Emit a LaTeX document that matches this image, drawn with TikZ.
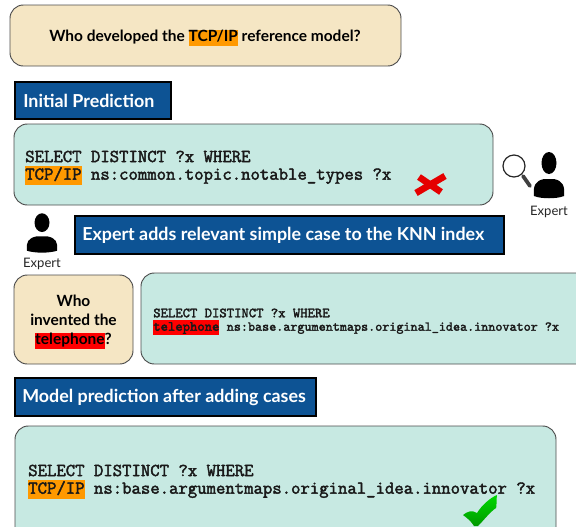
\documentclass[tikz,border=0pt]{standalone}
\usepackage{fontspec}
\setmainfont{Lato}
\newfontfamily\monof{Latin Modern Mono}[RawFeature={embolden=2.2}]
\definecolor{beige}{HTML}{F5E6C4}
\definecolor{teal}{HTML}{C7E9E2}
\definecolor{navy}{HTML}{0D5394}
\definecolor{hlo}{HTML}{FF9900}
\definecolor{hlr}{HTML}{FF0000}
\newcommand{\hlt}[2]{{\setlength{\fboxsep}{0pt}\colorbox{#1}{\rule[-0.28em]{0pt}{1.02em}#2}}}
\tikzset{
  x=0.75pt,y=-0.75pt,
  panel/.style={draw=black!70,line width=0.7pt,rounded corners=10pt},
  title/.style={draw=black,fill=navy,line width=1pt},
  titletext/.style={text=white,font=\bfseries\fontsize{13.4}{15}\selectfont,anchor=west,inner sep=0pt},
  code/.style={font=\monof\fontsize{13.67}{14}\selectfont,anchor=west,inner sep=0pt,text=black!90},
  codesmall/.style={font=\monof\fontsize{10.5}{11}\selectfont,anchor=west,inner sep=0pt,text=black!90},
  person/.style={fill=black,draw=none},
  small/.style={font=\fontsize{9.8}{11}\selectfont,inner sep=0pt,text=black!85},
  crossbar/.style={red!90!black,line width=5pt},
}
\newcommand{\expertfig}[3]{%
  \begin{scope}[shift={(#1,#2)},yscale=#3]
    \fill[person] (0,-11) ellipse (7.5 and 11);
    \fill[person] (-15,22) .. controls (-16,12) and (-14,7) .. (-5,5) -- (5,5) .. controls (14,7) and (16,12) .. (15,22) .. controls (8,25) and (-8,25) .. (-15,22) -- cycle;
  \end{scope}}
\begin{document}
\begin{tikzpicture}
\useasboundingbox (0,0) rectangle (576,526);
\clip (0,0) rectangle (576,526);
% question
\draw[panel,fill=beige] (10,5) rectangle (401,66);
\node[inner sep=0pt,font=\bfseries\fontsize{11.6}{14}\selectfont] (q) at (205,38) {Who developed the \hlt{hlo}{TCP/IP} reference model?};
% initial
\draw[title] (15,82) rectangle (171,119);
\node[titletext] (t1) at (23,101) {Initial Prediction};
\draw[panel,fill=teal] (14,124) rectangle (493,205);
\node[code] (c1) at (25,156.5) {SELECT DISTINCT ?x WHERE};
\node[code] (c2) at (25,175.5) {\hlt{hlo}{TCP/IP} ns:common.topic.notable\_types ?x};
% cross
\draw[crossbar] (416,193) -- (445,176);
\draw[crossbar] (419,177) -- (441,192);
% magnifier + expert
\draw[black!85,line width=0.9pt,fill=white] (514,166) circle (11);
\draw[black!75,line width=2.8pt,line cap=round] (523,176) -- (530,186);
\expertfig{549}{174}{1}
\node[small] (e1) at (549,212) {Expert};
% expert adds
\draw[title] (75,216) rectangle (504,254);
\node[titletext] (t2) at (82,235.5) {Expert adds relevant simple case to the KNN index};
\expertfig{42}{232}{0.85}
\node[small] (e2) at (42,264) {Expert};
\draw[panel,fill=beige] (14,275) rectangle (133,364);
\node[inner sep=0pt,align=center,font=\bfseries\fontsize{11.6}{14.25}\selectfont] (q2) at (73.5,322) {Who\\invented the\\\hlt{hlr}{telephone}?};
\draw[panel,fill=teal] (141,273) rectangle (590,364);
\node[codesmall] (c3) at (153,313) {SELECT DISTINCT ?x WHERE};
\node[codesmall] (c4) at (153,327.5) {\hlt{hlr}{telephone} {\fontsize{10.1}{11}\selectfont ns:base.argumentmaps.original\_idea.innovator ?x}};
% model prediction
\draw[title] (15,378) rectangle (316,416);
\node[titletext] (t3) at (22,397.5) {Model prediction after adding cases};
\draw[panel,fill=teal] (15,426) rectangle (556,545);
\node[code] (c5) at (28,470.5) {SELECT DISTINCT ?x WHERE};
\node[code] (c6) at (28,489.5) {\hlt{hlo}{TCP/IP} ns:base.argumentmaps.original\_idea.innovator ?x};
% check
\shade[top color=green!85!black,bottom color=green!60!black] (463,515) .. controls (468,511) and (472,510) .. (477,513) .. controls (482,505) and (490,498) .. (497,495) .. controls (496,503) and (497,506) .. (496,508) .. controls (490,512) and (484,520) .. (478,526) -- (474,526) .. controls (471,521) and (467,518) .. (463,515) -- cycle;
\end{tikzpicture}
\end{document}
